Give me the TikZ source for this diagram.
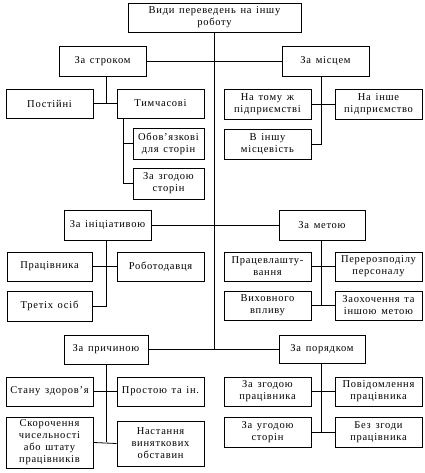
\documentclass[tikz,border=0pt]{standalone}
\usepackage{fontspec}
\setmainfont{Liberation Serif}[LetterSpace=7,WordSpace=1.4]
\usepackage{tikz}

\tikzset{
  box/.style={draw,line width=0.8pt,minimum width=87pt,minimum height=29pt,
    inner sep=1pt,align=center,font=\fontsize{10.5}{12}\selectfont},
  link/.style={line width=0.8pt},
  trunk/.style={line width=1.6pt}
}

\begin{document}
\begin{tikzpicture}[x=1pt,y=-1pt]
\useasboundingbox (0,0) rectangle (424,473);

\node[box,minimum width=173pt] (top) at (214.5,17.5) {Види переведень на іншу\\роботу};

\node[box,minimum height=30pt] (srok) at (102.5,61) {За строком};
\node[box,minimum height=30pt] (mistse) at (325.5,61) {За місцем};
\node[box] (post) at (49.5,103.5) {Постійні};
\node[box] (tymch) at (160.5,103.5) {Тимчасові};
\node[box,minimum width=71pt,minimum height=31pt] (oblig) at (168.5,143.5) {Обов'язкові\\для сторін};
\node[box,minimum width=71pt,minimum height=31pt] (zgoda) at (168.5,183.5) {За згодою\\сторін};
\node[box,minimum height=30pt] (tomuzh) at (267.5,104) {На тому ж\\підприємстві};
\node[box,minimum height=30pt] (inshe) at (378.5,104) {На інше\\підприємство};
\node[box,minimum height=30pt] (mistsev) at (267.5,144) {В іншу\\місцевість};

\node[box,minimum height=30pt] (inic) at (107.5,225) {За ініціативою};
\node[box,minimum width=85pt] (prac) at (49.5,266.5) {Працівника};
\node[box] (robot) at (160.5,266.5) {Роботодавця};
\node[box,minimum width=85pt,minimum height=30pt] (tretih) at (49.5,306) {Третіх осіб};
\node[box,minimum width=86pt,minimum height=30pt] (meta) at (322,225) {За метою};
\node[box] (pracevl) at (267.5,266.5) {Працевлашту-\\вання};
\node[box] (pererozp) at (378.5,266.5) {Перерозподілу\\персоналу};
\node[box] (vyhov) at (267.5,305.5) {Виховного\\впливу};
\node[box] (zaohoch) at (378.5,305.5) {Заохочення та\\іншою метою};

\node[box,minimum width=84pt] (prych) at (106,349.5) {За причиною};
\node[box] (zdorov) at (49.5,391.5) {Стану здоров'я};
\node[box] (prostiy) at (160.5,391.5) {Простою та ін.};
\node[box,minimum height=51pt] (skor) at (49.5,442.5) {Скорочення\\чисельності\\або штату\\працівників};
\node[box,minimum height=45pt] (nast) at (160.5,443.5) {Настання\\виняткових\\обставин};
\node[box,minimum width=86pt,minimum height=28pt] (poryad) at (322,349) {За порядком};
\node[box] (zgodaprac) at (267.5,391.5) {За згодою\\працівника};
\node[box] (povidoml) at (378.5,391.5) {Повідомлення\\працівника};
\node[box,minimum height=30pt] (ugoda) at (267.5,432) {За угодою\\сторін};
\node[box,minimum height=30pt] (bezzgody) at (378.5,432) {Без згоди\\працівника};

% main line
\draw[trunk] (top.south) -- (top.south |- poryad.west);
\draw[link] (srok.east) -- (srok.east -| top.south);
\draw[link] (mistse.west) -- (mistse.west -| top.south);
\draw[link] (inic.east) -- (inic.east -| top.south);
\draw[link] (meta.west) -- (meta.west -| top.south);
\draw[link] (prych.east) -- (prych.east -| top.south);
\draw[link] (poryad.west) -- (poryad.west -| top.south);

% left branches
\coordinate (l1) at (106,104);
\draw[link] (l1 |- srok.south) -- (l1);
\draw[link] (post.east) -- (tymch.west);
\coordinate (l2) at (123,183.5);
\draw[link] (l2 |- tymch.south) -- (l2) -- (zgoda.west);
\draw[link] (l2 |- oblig.west) -- (oblig.west);
\coordinate (l3) at (106,306);
\draw[link] (l3 |- inic.south) -- (l3) -- (tretih.east);
\draw[link] (prac.east) -- (robot.west);
\coordinate (l4) at (106,442);
\draw[link] (l4 |- prych.south) -- (l4);
\draw[link] (zdorov.east) -- (prostiy.west);
\draw[link] (skor.east) -- (nast.west);

% right branches
\coordinate (r1) at (321,144);
\draw[link] (r1 |- mistse.south) -- (r1) -- (mistsev.east);
\draw[link] (tomuzh.east) -- (inshe.west);
\coordinate (r2) at (321,305.5);
\draw[link] (r2 |- meta.south) -- (r2);
\draw[link] (pracevl.east) -- (pererozp.west);
\draw[link] (vyhov.east) -- (zaohoch.west);
\coordinate (r3) at (321,432);
\draw[link] (r3 |- poryad.south) -- (r3);
\draw[link] (zgodaprac.east) -- (povidoml.west);
\draw[link] (ugoda.east) -- (bezzgody.west);
%\draw (0,0) rectangle (424,473);

\end{tikzpicture}
\end{document}
